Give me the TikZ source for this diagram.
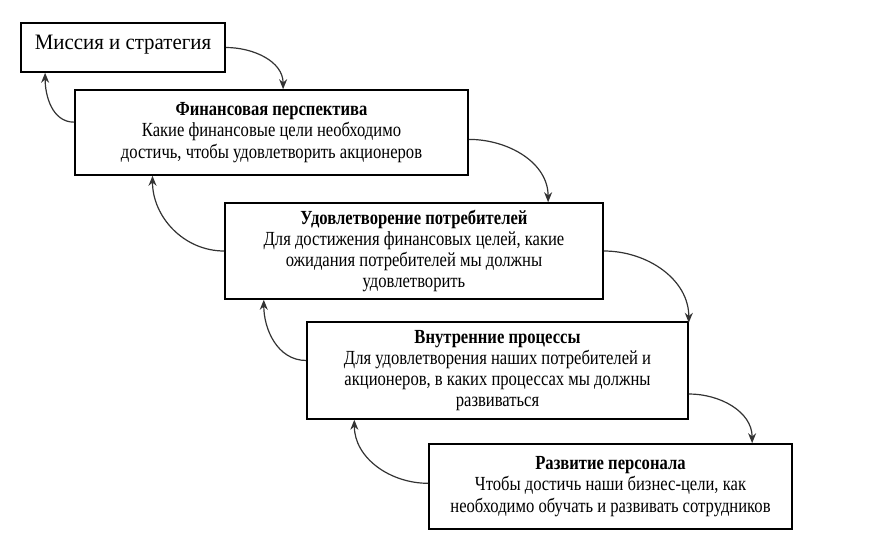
\documentclass[tikz,border=0pt]{standalone}
\usepackage{fontspec}
\setmainfont{Liberation Serif}
\newfontfamily\boxfont[FakeStretch=0.83]{Liberation Serif}
\newfontfamily\missionfont[FakeStretch=0.95]{Liberation Serif}
\usetikzlibrary{arrows.meta}
\begin{document}
\begin{tikzpicture}[x=0.5pt, y=0.5pt,
    box/.style={draw, line width=0.8pt, inner sep=0pt, align=center, font=\boxfont\fontsize{10}{10.6}\selectfont},
    arr/.style={draw=black!80, line width=0.6pt, -{Stealth[length=5pt, width=4pt]}}]
    \useasboundingbox (0,0) rectangle (895,-557);

    % Boxes
    \node[box, minimum width=102pt, minimum height=24.5pt, text depth=5pt,
        font=\missionfont\fontsize{11}{12}\selectfont] (b1) at (123,-47.5) {Миссия и стратегия};
    \node[box, minimum width=196.5pt, minimum height=42.5pt] (b2) at (271.5,-132.5)
        {\textbf{Финансовая перспектива}\\Какие финансовые цели необходимо\\достичь, чтобы удовлетворить акционеров};
    \node[box, minimum width=189pt, minimum height=48pt] (b3) at (414,-251)
        {\textbf{Удовлетворение потребителей}\\Для достижения финансовых целей, какие\\ожидания потребителей мы должны\\удовлетворить};
    \node[box, minimum width=190.5pt, minimum height=48.5pt] (b4) at (497.5,-370.5)
        {\textbf{Внутренние процессы}\\Для удовлетворения наших потребителей и\\акционеров, в каких процессах мы должны\\развиваться};
    \node[box, minimum width=181.5pt, minimum height=42.5pt] (b5) at (610.5,-486.5)
        {\textbf{Развитие персонала}\\Чтобы достичь наши бизнес-цели, как\\необходимо обучать и развивать сотрудников};

    % Arrows down
    \draw[arr] (b1.east) to[out=0, in=90] (b2.75);
    \draw[arr] (b2.-2) to[out=0, in=90] (b3.20);
    \draw[arr] (b3.east) to[out=0, in=90] (b4.14.5);
    \draw[arr] (b4.-7) to[out=0, in=90] (b5.17);

    % Arrows up
    \draw[arr] (b2.177) to[out=180, in=-90] (b1.-162);
    \draw[arr] (b3.west) to[out=180, in=-90] (b2.-160);
    \draw[arr] (b4.177) to[out=180, in=-90] (b3.-162.5);
    \draw[arr] (b5.179) to[out=180, in=-90] (b4.-161);
\end{tikzpicture}
\end{document}
